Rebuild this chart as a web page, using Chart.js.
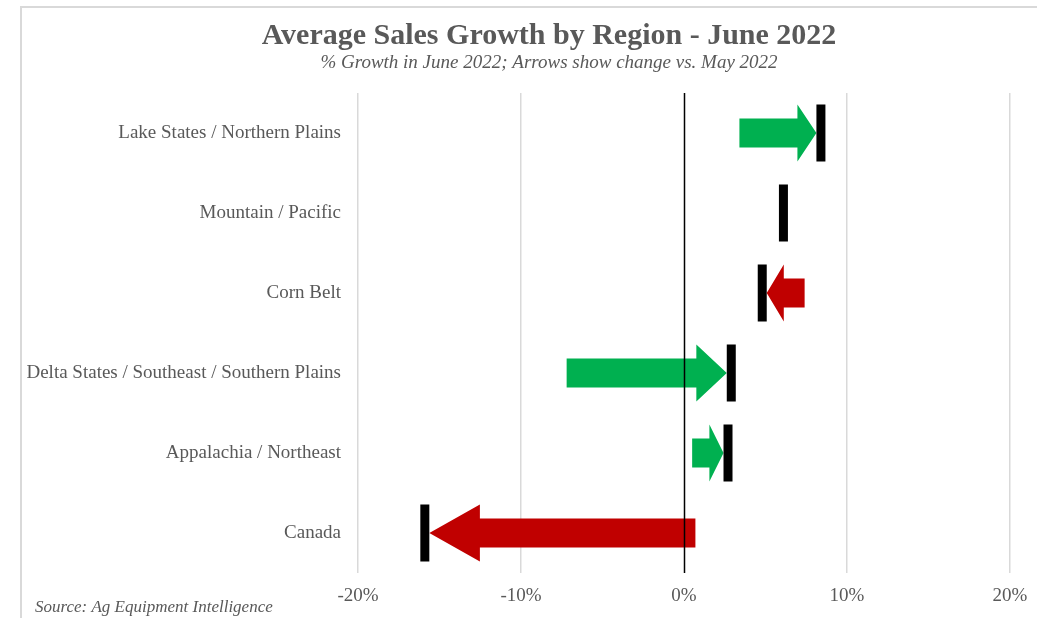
<!DOCTYPE html>
<html>
<head>
<meta charset="utf-8">
<script src="https://cdn.jsdelivr.net/npm/chart.js@4.4.0/dist/chart.umd.min.js"></script>
<style>
    html, body { margin:0; padding:0; background:#fff; }
    #wrap { position:relative; width:1038px; height:618px; }
</style>
</head>
<body>
<div id="wrap"><canvas id="growthChart" width="1038" height="618"></canvas></div>
<script>
// values (percent)
var regions = [
    'Lake States / Northern Plains',
    'Mountain / Pacific',
    'Corn Belt',
    'Delta States / Southeast / Southern Plains',
    'Appalachia / Northeast',
    'Canada'
];
var juneGrowth = [8.4, 6.1, 4.8, 2.9, 2.7, -15.9];
var mayGrowth  = [3.4, 6.1, 7.4, -7.2, 0.5, 0.7];
var xTicks = [-20, -10, 0, 10, 20];

var chartTitle = 'Average Sales Growth by Region - June 2022';
var chartSubtitle = '% Growth in June 2022; Arrows show change vs. May 2022';
var sourceNote = 'Source: Ag Equipment Intelligence';

var serif = "'Liberation Serif', 'Times New Roman', serif";
var textGrey = '#595959';

var RegionChart = {
    markerW: 9,

    arrows: {
        id: 'arrows',
        beforeDraw: (chart)=>{
            // light frame like the original slide
            var ctx = chart.ctx;
            ctx.save();
            ctx.strokeStyle = '#d9d9d9';
            ctx.lineWidth = 2;
            ctx.beginPath();
            ctx.moveTo(21, 618);
            ctx.lineTo(21, 7);
            ctx.lineTo(1037, 7);
            ctx.stroke();

            // title block, centred on the slide frame
            ctx.fillStyle = textGrey;
            ctx.textAlign = 'center';
            ctx.textBaseline = 'middle';
            ctx.font = 'bold 30px ' + serif;
            ctx.fillText(chartTitle, 549, 36);
            ctx.font = 'italic 19px ' + serif;
            ctx.fillText(chartSubtitle, 549, 63);
            ctx.restore();
        },
        beforeDatasetsDraw: (chart)=>{
            var ctx = chart.ctx;
            var xs = chart.scales.x, ys = chart.scales.y;
            ctx.save();
            regions.forEach((r, i)=>{
                var diff = juneGrowth[i] - mayGrowth[i];
                if (Math.abs(diff) < 0.05) return;
                var dir = diff > 0 ? 1 : -1;
                var yc = ys.getPixelForValue(i);
                var tail = xs.getPixelForValue(mayGrowth[i]);
                var tip = xs.getPixelForValue(juneGrowth[i]) - dir * RegionChart.markerW / 2;
                var len = Math.abs(tip - tail);
                var head = Math.min(len * 0.45, Math.max(19, len * 0.19));
                var base = tip - dir * head;
                var sh = 14.5, hh = 28.5;
                ctx.fillStyle = dir > 0 ? '#00b050' : '#c00000';
                ctx.beginPath();
                ctx.moveTo(tail, yc - sh);
                ctx.lineTo(base, yc - sh);
                ctx.lineTo(base, yc - hh);
                ctx.lineTo(tip, yc);
                ctx.lineTo(base, yc + hh);
                ctx.lineTo(base, yc + sh);
                ctx.lineTo(tail, yc + sh);
                ctx.closePath();
                ctx.fill();
            });
            // zero line sits over the arrows
            var x0 = Math.round(xs.getPixelForValue(0)) + 0.5;
            ctx.strokeStyle = '#000';
            ctx.lineWidth = 1.5;
            ctx.beginPath();
            ctx.moveTo(x0, chart.chartArea.top);
            ctx.lineTo(x0, chart.chartArea.bottom);
            ctx.stroke();
            ctx.restore();
        },
        afterDraw: (chart)=>{
            var ctx = chart.ctx;
            ctx.save();
            ctx.font = 'italic 17px ' + serif;
            ctx.fillStyle = textGrey;
            ctx.textBaseline = 'alphabetic';
            ctx.fillText(sourceNote, 35, 612);
            ctx.restore();
        }
    },

    init: ()=>{
        Chart.defaults.font.family = serif;
        Chart.defaults.color = textGrey;
        new Chart(document.getElementById('growthChart'), {
            type: 'scatter',
            data: {
                labels: regions,
                datasets: [{
                    label: 'June 2022',
                    data: juneGrowth.map((v, i)=>({ x: v, y: regions[i] })),
                    pointStyle: 'line',
                    rotation: 90,
                    radius: 28.5,
                    hoverRadius: 28.5,
                    borderWidth: RegionChart.markerW,
                    borderColor: '#000',
                    backgroundColor: '#000'
                }]
            },
            options: {
                responsive: false,
                animation: false,
                layout: {
                    autoPadding: false,
                    padding: { left: 8, right: 28, top: 93, bottom: 0 }
                },
                scales: {
                    x: {
                        type: 'linear',
                        min: -20,
                        max: 20,
                        afterBuildTicks: (scale)=>{ scale.ticks = xTicks.map(v=>({ value: v })); },
                        afterFit: (scale)=>{
                            scale.height = 45;
                            scale.paddingLeft = 0;
                            scale.paddingRight = 0;
                        },
                        grid: {
                            color: (c)=> c.tick && c.tick.value === 0 ? 'rgba(0,0,0,0)' : '#d9d9d9',
                            lineWidth: 1.5,
                            drawTicks: false
                        },
                        border: { display: false },
                        ticks: {
                            padding: 12,
                            font: { size: 19 },
                            color: textGrey,
                            callback: (v)=> v + '%'
                        }
                    },
                    y: {
                        type: 'category',
                        labels: regions,
                        offset: true,
                        afterFit: (scale)=>{ scale.width = 350; },
                        grid: { display: false, drawTicks: false },
                        border: { display: false },
                        ticks: { padding: 17, font: { size: 19 }, color: textGrey }
                    }
                },
                plugins: {
                    legend: { display: false },
                    tooltip: { enabled: false },
                    title: { display: false },
                    subtitle: { display: false }
                }
            },
            plugins: [RegionChart.arrows]
        });
    }
}

RegionChart.init();
</script>
</body>
</html>
